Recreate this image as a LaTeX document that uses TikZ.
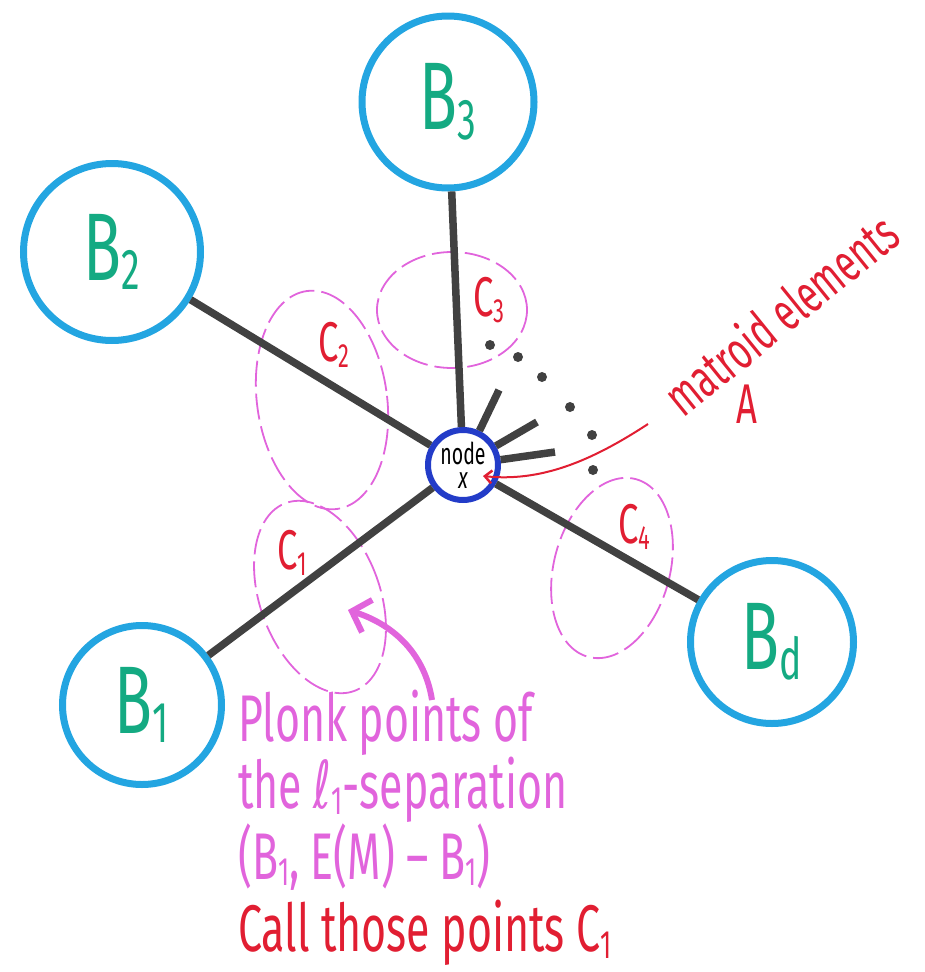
\documentclass[tikz,border=0pt]{standalone}
\usepackage{fontspec}
\newfontfamily\handfont[FakeStretch=0.65]{Fira Sans}
\newfontfamily\ellfont[FakeStretch=0.65]{DejaVu Sans}
\usetikzlibrary{arrows.meta,shapes.geometric,calc}
\definecolor{bcyan}{RGB}{35,165,225}
\definecolor{bteal}{RGB}{20,170,130}
\definecolor{xblue}{RGB}{35,60,200}
\definecolor{edgegray}{RGB}{65,65,65}
\definecolor{plonkpink}{RGB}{225,100,220}
\definecolor{penred}{RGB}{225,30,50}
\newcommand\hsub[1]{\raisebox{-0.1em}{\scalebox{0.6}{#1}}}
\tikzset{
  bset/.style  ={draw=bcyan, circle, line width=7pt, text=bteal, inner sep=0pt, font=\handfont\fontsize{96}{96}\selectfont},
  xnode/.style ={draw=xblue, circle, line width=6pt, fill=white, inner sep=0pt, minimum size=70pt, align=center, font=\handfont\fontsize{30}{24}\selectfont},
  cset/.style  ={draw=plonkpink, ellipse, line width=1.8pt, dash pattern=on 26pt off 7pt, inner sep=0pt},
  clbl/.style  ={text=penred, font=\handfont\fontsize{56}{56}\selectfont},
  link/.style  ={draw=edgegray, line width=7.5pt},
  stub/.style  ={draw=edgegray, line width=7.5pt},
  redarrow/.style={draw=penred, line width=2pt, -{Straight Barb[length=7pt, width=13pt, line width=2.5pt]}},
  pinkarrow/.style={draw=plonkpink, line width=6pt, -{Straight Barb[length=16pt, width=34pt, line width=6pt]}},
  note/.style  ={align=left, inner sep=0pt, font=\handfont\fontsize{66}{60}\selectfont}
}

\begin{document}
\begin{tikzpicture}[x=1pt, y=1pt]
  \useasboundingbox (0,0) rectangle (924,-972);
  % pink point sets
  \node[cset, minimum width=120pt, minimum height=200pt, rotate=20] (c1) at (320,-597) {};
  \node[cset, minimum width=130pt, minimum height=220pt, rotate=8] (c2) at (322,-400) {};
  \node[cset, minimum width=150pt, minimum height=116pt] (c3) at (452,-310) {};
  \node[cset, minimum width=116pt, minimum height=184pt, rotate=-15] (c4) at (612,-568) {};
  \node[clbl] at (292,-553) {C\hsub{1}};
  \node[clbl] at (334,-345) {C\hsub{2}};
  \node[clbl] at (489,-300) {C\hsub{3}};
  \node[clbl] at (634,-527) {C\hsub{4}};
  % the B's and node x
  \node[bset, minimum size=177pt] (b2) at (112,-252) {B\hsub{2}};
  \node[bset, minimum size=172pt] (b3) at (448,-102) {B\hsub{3}};
  \node[bset, minimum size=159pt] (b1) at (142,-705) {B\hsub{1}};
  \node[bset, minimum size=163pt] (bd) at (772,-642) {B\hsub{d}};
  \node[xnode] (x) at (463,-465) {node\\{\itshape x}};
  \draw[link] (x) -- (b3);
  \draw[link] (x) -- (b2);
  \draw[link] (x) -- (b1);
  \draw[link] (x) -- (bd);
  % elements of A
  \coordinate (s1) at (499,-390);
  \coordinate (s2) at (537,-422);
  \coordinate (s3) at (555,-452);
  \foreach \s in {s1,s2,s3}
    \draw[stub] (x) -- (\s);
  \foreach \p in {(490,-345),(518,-357),(542,-377),(570,-407),(592,-435),(593,-470)}
    \fill[edgegray] \p circle (5pt);
  \node[text=penred, rotate=39, font=\handfont\fontsize{54}{54}\selectfont] (mat) at (780,-314) {matroid elements};
  \node[text=penred, font=\handfont\fontsize{56}{56}\selectfont] (a) at (747,-404) {A};
  \coordinate (mtail) at (648,-424);
  \coordinate (xin) at (483,-476);
  \draw[redarrow] (mtail) .. controls (590,-462) and (540,-482) .. (xin);
  % Plonk points
  \node[note, text=plonkpink, anchor=north west] (plonk) at (238,-690) {Plonk points of\\the {\ellfont ℓ}\hsub{1}-separation\\(B\hsub{1}, E(M)\,–\,B\hsub{1})};
  \node[note, text=penred, anchor=north west] (call) at (238,-900) {Call those points C\hsub{1}};
  \coordinate (ptail) at (432,-700);
  \coordinate (phead) at (348,-610);
  \draw[pinkarrow] (ptail) .. controls (425,-655) and (395,-625) .. (phead);
\end{tikzpicture}
\end{document}
